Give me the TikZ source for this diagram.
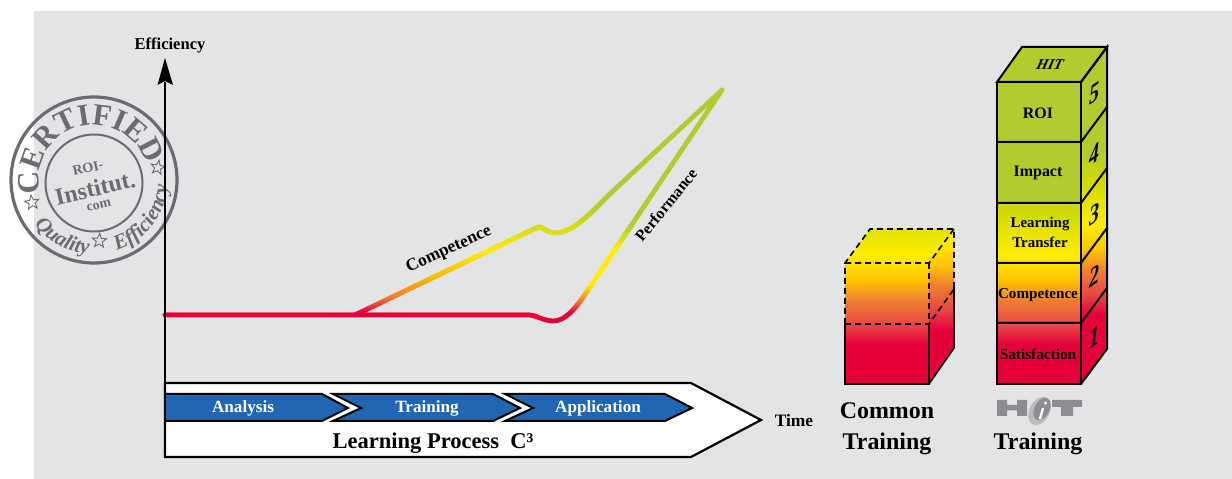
\documentclass[tikz,border=0pt]{standalone}
\usepackage{fontspec}
\setmainfont{Liberation Serif}
\usetikzlibrary{shapes.geometric,decorations.text}
\definecolor{panel}{HTML}{E3E4E6}
\definecolor{cG}{HTML}{B3CB2E}
\definecolor{cGY}{HTML}{D3DB00}
\definecolor{cY}{HTML}{FFED00}
\definecolor{cO}{HTML}{FBB400}
\definecolor{cOt}{HTML}{FFC400}
\definecolor{cP}{HTML}{F08030}
\definecolor{cRt}{HTML}{E84546}
\definecolor{cR}{HTML}{E6003A}
\definecolor{stampc}{HTML}{6B6C6F}
\definecolor{bluebox}{HTML}{2166B0}
\definecolor{logoc}{HTML}{8C8D90}
\pgfdeclareverticalshading{towergrad}{100bp}{color(0bp)=(cR); color(36bp)=(cR); color(40bp)=(cRt);
 color(45bp)=(cP); color(49bp)=(cOt); color(54bp)=(cY);
 color(62bp)=(cGY); color(69bp)=(cG); color(100bp)=(cG)}
\newcommand{\perfpath}{(165,315) -- (528,315) .. controls (536,315) and (544,321) .. (553,321) .. controls (565,321) and (575,310) .. (590,287) -- (722,90)}
\newcommand{\comppath}{(355,315) -- (538,227) .. controls (543,226) and (546,233) .. (555,233) .. controls (575,233) and (595,208) .. (613,191) -- (722,90)}
\newcommand{\fsz}[1]{\fontsize{#1}{#1}\selectfont}
% #1 path, #2 top of first band, #3 list of gradient pieces, #4 start of the red part
\newcommand{\gradcurve}[4]{%
 \begin{scope}\clip (0,80) rectangle (1232,{#2+0.3}); \draw[curve,draw=cG] #1; \end{scope}
 \foreach \ya/\yb/\ca/\cb in {#3}{
  \pgfmathtruncatemacro\nb{(\yb-\ya)/2}
  \foreach \i in {1,...,\nb}{
   \pgfmathsetmacro\pc{100*(\i-0.5)/\nb}
   \pgfmathsetmacro\yt{\ya+(\i-1)*2}
   \colorlet{bandc}{\cb!\pc!\ca}
   \begin{scope}\clip (0,\yt) rectangle (1232,{\yt+2.3}); \draw[curve,draw=bandc] #1; \end{scope}
  }
 }
 \begin{scope}\clip (0,#4) rectangle (1232,335); \draw[curve,draw=cR] #1; \end{scope}
}
\newcommand{\towershade}[2]{\begin{scope}\clip #1; \fill[cG] (900,40) rectangle (1110,{150+#2+1}); \fill[cR] (900,{400+#2-1}) rectangle (1110,400); \shade[shading=towergrad] (900,{150+#2}) rectangle (1110,{400+#2}); \end{scope}}
\newcommand{\commonshade}[2]{\begin{scope}\clip #1; \shade[shading=towergrad] (840,{150+#2}) rectangle (960,{400+#2}); \end{scope}}
\tikzset{
 curve/.style={line width=4.8bp,line cap=round,line join=round},
 outline/.style={draw=black,line width=2bp,line join=miter},
 dashline/.style={draw=black,line width=1.6bp,dash pattern=on 6bp off 4bp},
 solidline/.style={draw=black,line width=1.6bp},
 blk/.style={font=\bfseries,text=black,inner sep=0pt,align=center},
 chevron/.style={fill=bluebox,draw=black,line width=2bp,line join=miter},
 whitelabel/.style={font=\bfseries\fsz{17.2},text=white,inner sep=0pt},
 sidenum/.style={font=\bfseries\itshape\fsz{27},text=black,inner sep=0pt,transform shape},
 logofill/.style={fill=logoc,draw=none},
 stamptxt/.style={text=stampc,inner sep=0pt,transform shape},
 stampstar/.style={star,star points=5,star point ratio=2.4,draw=stampc,line width=0.9bp,fill=none,minimum size=15bp,inner sep=0pt},
}
\begin{document}
\begin{tikzpicture}[x=1bp,y=-1bp]
\useasboundingbox (0,0) rectangle (1232,479);
\fill[white] (0,0) rectangle (1232,479);
\fill[panel] (34,11) rectangle (1232,479);

% stamp
\begin{scope}[shift={(94,180)},x=1bp,y=1bp]
 \draw[stampc,line width=3.2bp] (0,0) circle (83);
 \draw[stampc,line width=2bp] (0,-3) circle (48.5);
 \path[postaction={decorate},decoration={text along path,text align={align=center},
   text={|\bfseries\fsz{31}\color{stampc}|CERTIFIED}}] (196:55) arc (196:14:55);
 \path[postaction={decorate},decoration={text along path,text align={align=center},
   text={|\bfseries\itshape\fsz{21}\color{stampc}|Quality}}] (210:74) arc (210:272:74);
 \path[postaction={decorate},decoration={text along path,text align={align=center},
   text={|\bfseries\itshape\fsz{21}\color{stampc}|Efficiency}}] (277:74) arc (277:367:74);
 \node[stampstar,rotate=8] (starL) at (200:66) {};
 \node[stampstar,rotate=-3] (starB) at (275:61) {};
 \node[stampstar,rotate=-10] (starR) at (11:65) {};
 \node[stamptxt,font=\bfseries\fsz{14},rotate=13] (roi) at (-6,12) {ROI-};
 \node[stamptxt,font=\bfseries\fsz{24},rotate=13] (inst) at (1,-8) {Institut.};
 \node[stamptxt,font=\bfseries\fsz{14},rotate=13] (com) at (5,-26) {com};
\end{scope}

% curves
\gradcurve{\comppath}{206}{206/252/cG/cY,252/280/cY/cO,280/298/cO/cP,298/314/cP/cR}{314}
\gradcurve{\perfpath}{226}{226/250/cG/cY,250/286/cY/cY,286/302/cY/cP,302/314/cP/cR}{314}

% curve labels
\node[blk,font=\bfseries\fsz{17.5},rotate=25] (lcomp) at (449,250) {Competence};
\node[blk,font=\bfseries\fsz{16},rotate=51] (lperf) at (666,205) {Performance};

% axis
\coordinate (axisbottom) at (165,458);
\coordinate (axistop) at (165,82);
\draw[black,line width=2.4bp] (axisbottom) -- (axistop);
\fill[black] (165,58) -- (173,85) -- (165,81) -- (157.5,85) -- cycle;
\node[blk,font=\bfseries\fsz{16.6}] (leff) at (170,45) {Efficiency};

% process arrow
\draw[fill=white,draw=black,line width=2.2bp,line join=miter] (165,383) -- (691,383) -- (761,420) -- (691,457) -- (165,457) -- cycle;
\draw[chevron] (166,394) -- (322,394) -- (348,408) -- (322,421) -- (166,421);
\fill[bluebox] (166,395) rectangle (170,420);
\draw[chevron] (333,394) -- (493,394) -- (520,408) -- (493,421) -- (333,421) -- (361,408) -- cycle;
\draw[chevron] (505,394) -- (665,394) -- (692,408) -- (665,421) -- (505,421) -- (533,408) -- cycle;
\node[whitelabel] (lana) at (243,408.5) {Analysis};
\node[whitelabel] (ltra) at (427,408.5) {Training};
\node[whitelabel] (lapp) at (598,408.5) {Application};
\node[blk,font=\bfseries\fsz{22.6}] (lproc) at (433,443) {Learning Process\hspace{0.5em}C³};
\node[blk,font=\bfseries\fsz{17.5}] (ltime) at (794,420.5) {Time};

% common cube
\commonshade{(845,263) rectangle (929,384)}{0}
\commonshade{(845,263) -- (870,229) -- (954,229) -- (929,263) -- cycle}{0}
\commonshade{(929,263) -- (954,229) -- (954,348) -- (929,384) -- cycle}{-15}
\draw[dashline] (845,324) -- (845,263) -- (870,229) -- (954,229) -- (954,288);
\draw[dashline] (845,263) -- (929,263) -- (954,229);
\draw[dashline] (929,263) -- (929,324);
\draw[dashline] (845,324) -- (929,324) -- (954,289);
\draw[solidline] (845,324) -- (845,384) -- (929,384) -- (929,324);
\draw[solidline] (929,384) -- (954,348) -- (954,288);
\node[blk,font=\bfseries\fsz{24}] (lcommon) at (887,411) {Common};
\node[blk,font=\bfseries\fsz{24}] (ltrain1) at (887,443.5) {Training};

% HIT tower
\towershade{(997,82) rectangle (1081,384)}{0}
\fill[cG] (997,82) rectangle (1081,203);
\towershade{(1081,82) -- (1107,47) -- (1107,349) -- (1081,384) -- cycle}{-30}
\fill[cG] (997,82) -- (1022,47) -- (1107,47) -- (1081,82) -- cycle;
\draw[outline] (997,82) -- (1022,47) -- (1107,47) -- (1081,82) -- cycle;
\draw[outline] (997,82) rectangle (1081,384);
\draw[outline] (1081,82) -- (1107,47) -- (1107,349) -- (1081,384);
\foreach \ly in {142,203,263,323}{
 \draw[outline] (997,\ly) -- (1081,\ly) -- (1107,{\ly-35});
}
\node[blk,font=\itshape\bfseries\fsz{15},xslant=0.25,transform shape] (lhit) at (1050,65) {HIT};
\node[blk,font=\bfseries\fsz{16}] (lroi) at (1038,113) {ROI};
\node[blk,font=\bfseries\fsz{16}] (limp) at (1038,173) {Impact};
\node[blk,font=\bfseries\fsz{15}] (llt1) at (1040,224) {Learning};
\node[blk,font=\bfseries\fsz{15}] (llt2) at (1040,242) {Transfer};
\node[blk,font=\bfseries\fsz{15.2}] (lcom2) at (1038,295) {Competence};
\node[blk,font=\bfseries\fsz{15.3}] (lsat) at (1038,354) {Satisfaction};
\node[sidenum,yslant=0.7,xscale=0.75] (n5) at (1095,93) {5};
\node[sidenum,yslant=0.7,xscale=0.75] (n4) at (1095,154) {4};
\node[sidenum,yslant=0.7,xscale=0.75] (n3) at (1095,214) {3};
\node[sidenum,yslant=0.7,xscale=0.75] (n2) at (1095,276) {2};
\node[sidenum,yslant=0.7,xscale=0.75] (n1) at (1095,337) {1};

% HIT logo
\fill[logofill] (997,400) -- (1007,400) -- (1007,405) -- (1017,405) -- (1017,400) -- (1027,400) -- (1027,416) -- (1017,416) -- (1017,410.5) -- (1007,410.5) -- (1007,416) -- (997,416) -- cycle;
\fill[logofill] (1052,400) -- (1082,400) -- (1082,407) -- (1073,407) -- (1073,416) -- (1061,416) -- (1061,407) -- (1052,407) -- cycle;
\fill[logoc!60!white,rotate around={-28:(1039.5,411)}] (1039.5,411) ellipse (10 and 15);
\fill[logoc,rotate around={-28:(1042,409)}] (1042,409) ellipse (7.5 and 12);
\draw[white,line width=2.4bp] (1043,408) -- (1040,419);
\fill[white] (1045.5,403) circle (1.7);
\node[blk,font=\bfseries\fsz{24}] (ltrain2) at (1038,443.5) {Training};
\end{tikzpicture}
\end{document}
